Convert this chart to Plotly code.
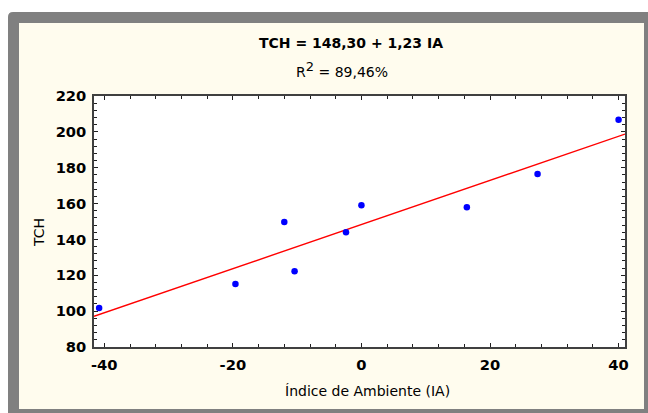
import plotly.graph_objects as go

# Data
ia = [-40.8, -19.6, -12.0, -10.4, -2.4, 0.0, 16.4, 27.4, 40.0]
tch = [101.8, 115.1, 149.7, 122.2, 144.0, 159.0, 157.9, 176.5, 206.8]
intercept = 148.30
slope = 1.23
x_range = [-41.6, 41.0]
y_range = [80, 220]
x_ticks = [-40, -20, 0, 20, 40]
y_ticks = [80, 100, 120, 140, 160, 180, 200, 220]

W, H = 648, 413
ML, MR, MT, MB = 94, 23, 96, 66
PW, PH = W - ML - MR, H - MT - MB


def xp(px):
    return (px - ML) / PW


def yp(py):
    return (H - MB - py) / PH


fit_x = x_range
fit_y = [intercept + slope * v for v in fit_x]

FONT = "DejaVu Sans"

fig = go.Figure()
fig.add_trace(go.Scatter(x=fit_x, y=fit_y, mode="lines",
                         line=dict(color="#ff0000", width=1.4),
                         hoverinfo="skip", showlegend=False, cliponaxis=True))
fig.add_trace(go.Scatter(x=ia, y=tch, mode="markers",
                         marker=dict(color="#0000ff", size=6.5, line=dict(width=0)),
                         showlegend=False))

shapes = []
# gray frame with rounded top-left corner
r = 5
gx0, gy0, gx1, gy1 = 8, 12, 648, 413
path = (f"M {xp(gx0)},{yp(gy1)} L {xp(gx0)},{yp(gy0 + r)} "
        f"Q {xp(gx0)},{yp(gy0)} {xp(gx0 + r)},{yp(gy0)} "
        f"L {xp(gx1)},{yp(gy0)} L {xp(gx1)},{yp(gy1)} Z")
shapes.append(dict(type="path", xref="paper", yref="paper", path=path,
                   fillcolor="#808080", line=dict(width=0), layer="below"))
# cream inner panel
shapes.append(dict(type="rect", xref="paper", yref="paper",
                   x0=xp(19), x1=xp(644), y0=yp(409), y1=yp(23),
                   fillcolor="#fffcee", line=dict(width=0), layer="below"))
# white plot area
shapes.append(dict(type="rect", xref="paper", yref="paper",
                   x0=0, x1=1, y0=0, y1=1,
                   fillcolor="#ffffff", line=dict(width=0), layer="below"))

annotations = [
    dict(text="<b>TCH = 148,30 + 1,23 IA</b>", x=xp(351), y=yp(43),
         xref="paper", yref="paper", showarrow=False, xanchor="center", yanchor="middle",
         font=dict(family=FONT, size=14, color="#000000")),
    dict(text="R<sup><span style='font-size:13px'>2</span></sup> = 89,46%", x=xp(342), y=yp(69),
         xref="paper", yref="paper", showarrow=False, xanchor="center", yanchor="middle",
         font=dict(family=FONT, size=14, color="#000000")),
    dict(text="Índice de Ambiente (IA)", x=xp(368), y=yp(391),
         xref="paper", yref="paper", showarrow=False, xanchor="center", yanchor="middle",
         font=dict(family=FONT, size=14, color="#000000")),
    dict(text="TCH", x=xp(39), y=yp(233), textangle=-90,
         xref="paper", yref="paper", showarrow=False, xanchor="center", yanchor="middle",
         font=dict(family=FONT, size=14, color="#000000")),
]

axis_common = dict(
    showline=True, linecolor="#404040", linewidth=1.5, mirror="ticks",
    ticks="inside", ticklen=4, tickwidth=1, tickcolor="#202020",
    showgrid=False, zeroline=False,
    tickfont=dict(family=FONT, size=14.7, color="#000000", weight="bold"),
)

fig.update_xaxes(range=x_range, tickmode="array", tickvals=x_ticks,
                 ticktext=[str(v) for v in x_ticks],
                 minor=dict(dtick=4, tick0=0, ticks="inside", ticklen=3, tickcolor="#202020"),
                 ticklabelstandoff=4,
                 **axis_common)
fig.update_yaxes(range=y_range, tickmode="array", tickvals=y_ticks,
                 ticktext=[str(v) for v in y_ticks],
                 minor=dict(dtick=4, tick0=0, ticks="inside", ticklen=3, tickcolor="#202020"),
                 ticklabelstandoff=3,
                 **axis_common)

fig.update_layout(
    width=W, height=H, autosize=False,
    margin=dict(l=ML, r=MR, t=MT, b=MB, pad=0),
    paper_bgcolor="#ffffff", plot_bgcolor="rgba(0,0,0,0)",
    shapes=shapes, annotations=annotations,
    showlegend=False,
)

fig.write_html("out.html")
